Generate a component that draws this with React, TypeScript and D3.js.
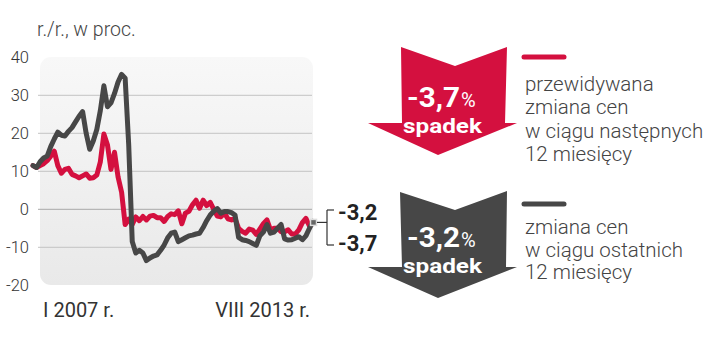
import React from "react";
import * as d3 from "d3";

// Monthly data, I 2007 – VIII 2013 (80 months)
const expected: number[] = [
  11.5, 11, 11.5, 12, 12.8, 14, 15.3, 11.5, 9.5, 10.5,
  10.8, 9.2, 8.8, 8.3, 8.8, 9.3, 8.2, 8.3, 9, 12.5,
  19.8, 17, 10.5, 15, 8.5, 4.5, -4, -2.6, -4, -2,
  -3, -1.9, -2.8, -1.8, -1.6, -2.2, -2.2, -3.2, -1.9, -1.2,
  -1.4, -0.4, -3.8, -1, -0.5, 1.2, 2.4, 0.3, 2.4, 1,
  1.8, 0, -1.8, -2, -1, -2.5, -2.8, -2.4, -5, -5.8,
  -6.3, -5.2, -5.5, -6.6, -5.2, -3.8, -2.8, -5.4, -5, -5,
  -5.9, -5.9, -5.4, -6.5, -6.5, -5.4, -3.5, -2.4, -4.4, -3.7,
];
const past: number[] = [
  11.5, 11, 12.5, 13.5, 14, 16.5, 18.5, 20.3, 19.5, 19.3,
  20.5, 21.5, 23, 24.5, 25.7, 20, 15.8, 18, 21, 26,
  32.5, 27, 28, 30.5, 33.5, 35.5, 34.5, 17, -8.5, -11.5,
  -10.8, -11.5, -13.5, -12.8, -12.3, -12, -10.8, -9.4, -7.5, -6.3,
  -6, -8.5, -8, -7.5, -7, -6.8, -6.5, -6.3, -4.8, -3,
  -1.5, -0.5, 0.2, -1, -0.6, -0.6, -0.9, -1.5, -7.4, -8,
  -8.2, -8.5, -9, -9.5, -7, -6, -4, -6.3, -6, -5,
  -4, -7.8, -8.1, -8, -7.6, -7.2, -8, -7, -5, -3.2,
];
const yTicks: number[] = [-20, -10, 0, 10, 20, 30, 40];
const gridValues: number[] = [-10, 0, 10, 20, 30];
const xLabels: string[] = ["I 2007 r.", "VIII 2013 r."];
const endLabels: string[] = ["-3,2", "-3,7"];
const unitLabel = "r./r., w proc.";
const redValue = "-3,7";
const grayValue = "-3,2";
const arrowWord = "spadek";
const redLegend: string[] = ["przewidywana", "zmiana cen", "w ciągu następnych", "12 miesięcy"];
const grayLegend: string[] = ["zmiana cen", "w ciągu ostatnich", "12 miesięcy"];

const RED = "#d4103f";
const GRAY = "#474747";
const FONT = "Roboto, 'Open Sans', sans-serif";

export default function App() {
  const x = d3.scaleLinear().domain([0, expected.length - 1]).range([33, 313]);
  const y = d3.scaleLinear().domain([-20, 40]).range([285.3, 57.3]);
  const line = d3
    .line<number>()
    .x((_, i) => x(i))
    .y((d) => y(d));

  const redArrow = "M401,47 L455,66 L507,47 L505,123 L517,123 L438,155 L368,123 L402,123 Z";
  const grayArrow = "M400,192 L455,210 L507,191 L506,267 L517,267 L438,298 L368,267 L402,267 Z";

  const lastX = x(expected.length - 1);
  const lastY = y((expected[expected.length - 1] + past[past.length - 1]) / 2);

  return (
    <svg
      width={720}
      height={360}
      style={{ position: "absolute", left: 0, top: 0, background: "#fff" }}
      fontFamily={FONT}
    >
      <defs>
        <linearGradient id="panelGrad" x1="0" y1="0" x2="0" y2="1">
          <stop offset="0" stopColor="#f8f8f8" />
          <stop offset="1" stopColor="#e9e9e9" />
        </linearGradient>
      </defs>
      <text x={37} y={36} fontSize={19.5} fontWeight={300} fill="#444">
        {unitLabel}
      </text>
      <rect x={40} y={57} width={273} height={228} rx={11} fill="url(#panelGrad)" />
      {gridValues.map((v) => (
        <line
          key={v}
          x1={38}
          x2={312}
          y1={y(v)}
          y2={y(v)}
          stroke={v === 0 ? "#a8a8a8" : "#c4c4c4"}
          strokeWidth={1}
        />
      ))}
      {yTicks.map((v) => (
        <text
          key={v}
          x={29}
          y={y(v)}
          dy="0.36em"
          textAnchor="end"
          fontSize={16.5}
          fontWeight={300}
          fill="#333"
        >
          {v}
        </text>
      ))}
      <path d={line(expected) || ""} fill="none" stroke={RED} strokeWidth={5} strokeLinejoin="round" strokeLinecap="round" />
      <path d={line(past) || ""} fill="none" stroke={GRAY} strokeWidth={5} strokeLinejoin="round" strokeLinecap="round" />
      <text x={43} y={317} fontSize={20} fill="#333">
        {xLabels[0]}
      </text>
      <text x={310} y={317} fontSize={20} fill="#333" textAnchor="end">
        {xLabels[1]}
      </text>

      {/* end marker and bracket */}
      <rect x={lastX - 2.5} y={lastY - 3} width={6} height={6} fill="#666" stroke="#ddd" strokeWidth={1.5} />
      <g stroke="#333" strokeWidth={1.2} fill="none">
        <line x1={lastX + 4} x2={327} y1={lastY} y2={lastY} />
        <line x1={327} x2={327} y1={210} y2={245} />
        <line x1={327} x2={334} y1={210} y2={210} />
        <line x1={327} x2={334} y1={245} y2={245} />
      </g>
      <text x={338} y={220} fontSize={22} fontWeight={700} fill="#222">
        {endLabels[0]}
      </text>
      <text x={338} y={251} fontSize={22} fontWeight={700} fill="#222">
        {endLabels[1]}
      </text>

      {/* red arrow */}
      <path d={redArrow} fill={RED} />
      <text x={407} y={107} fill="#fff" fontSize={27} fontWeight={700} textLength={53} lengthAdjust="spacingAndGlyphs">
        {redValue}
      </text>
      <text x={461} y={107} fill="#fff" fontSize={20}>%</text>
      <text x={403} y={133} fill="#fff" fontSize={20} fontWeight={700} textLength={79} lengthAdjust="spacingAndGlyphs">
        {arrowWord}
      </text>

      {/* gray arrow */}
      <path d={grayArrow} fill={GRAY} />
      <text x={407} y={247} fill="#fff" fontSize={27} fontWeight={700} textLength={53} lengthAdjust="spacingAndGlyphs">
        {grayValue}
      </text>
      <text x={461} y={247} fill="#fff" fontSize={20}>%</text>
      <text x={403} y={273} fill="#fff" fontSize={20} fontWeight={700} textLength={79} lengthAdjust="spacingAndGlyphs">
        {arrowWord}
      </text>

      {/* legends */}
      <line x1={524} x2={564} y1={57} y2={57} stroke={RED} strokeWidth={5} strokeLinecap="round" />
      {redLegend.map((t, i) => (
        <text key={t + i} x={525} y={91 + i * 23.3} fontSize={20.5} fontWeight={300} fill="#444">
          {t}
        </text>
      ))}
      <line x1={524} x2={564} y1={204} y2={204} stroke={GRAY} strokeWidth={5} strokeLinecap="round" />
      {grayLegend.map((t, i) => (
        <text key={t + i} x={525} y={234 + i * 22.5} fontSize={20.5} fontWeight={300} fill="#444">
          {t}
        </text>
      ))}
    </svg>
  );
}
